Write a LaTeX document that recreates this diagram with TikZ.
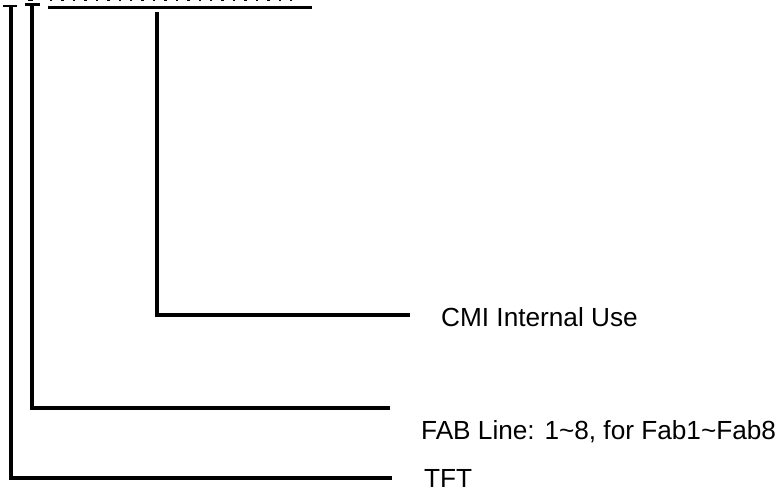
\documentclass[tikz,border=0pt]{standalone}
\usepackage{fontspec}
\setmainfont{Liberation Sans}
\usetikzlibrary{positioning}
\tikzset{font=\fontsize{26.2}{30}\selectfont}
\tikzstyle{lbl}=[anchor=base west,inner sep=0pt]
\tikzstyle{bar}=[line width=3.3pt]
\tikzstyle{ulbar}=[line width=2.8pt]

\begin{document}
\begin{tikzpicture}[x=1pt,y=-1pt]
\useasboundingbox (0,0) rectangle (784,492);
\node[lbl] (cmi) at (441,326) {CMI Internal Use};
\node[lbl] (fab) at (421,439) {FAB Line: 1\textasciitilde 8, for Fab1\textasciitilde Fab8};
\node[lbl] (tft) at (424,487) {TFT};
% top marks
\coordinate (ua) at (3,6);
\coordinate (ub) at (25,4.5);
\coordinate (uc) at (48,7.3);
\draw[ulbar] (ua) -- ++(14,0);
\draw[ulbar] (ub) -- ++(15,0);
\draw[ulbar] (uc) -- (312,7.3);
\fill (28,0) rectangle (33,1.3);
\foreach \i in {0,...,21}
  \fill (50+\i*11.43,0) rectangle ++(2.4,1.4);
% branches
\coordinate (ta) at (11,7.5);
\coordinate (tb) at (32,6);
\coordinate (tc) at (157,12);
\coordinate (ea) at (392,478);
\coordinate (eb) at (390,408);
\coordinate (ec) at (410,315);
\draw[bar] (ta) |- (ea);
\draw[bar] (tb) |- (eb);
\draw[bar] (tc) |- (ec);
\end{tikzpicture}
\end{document}
